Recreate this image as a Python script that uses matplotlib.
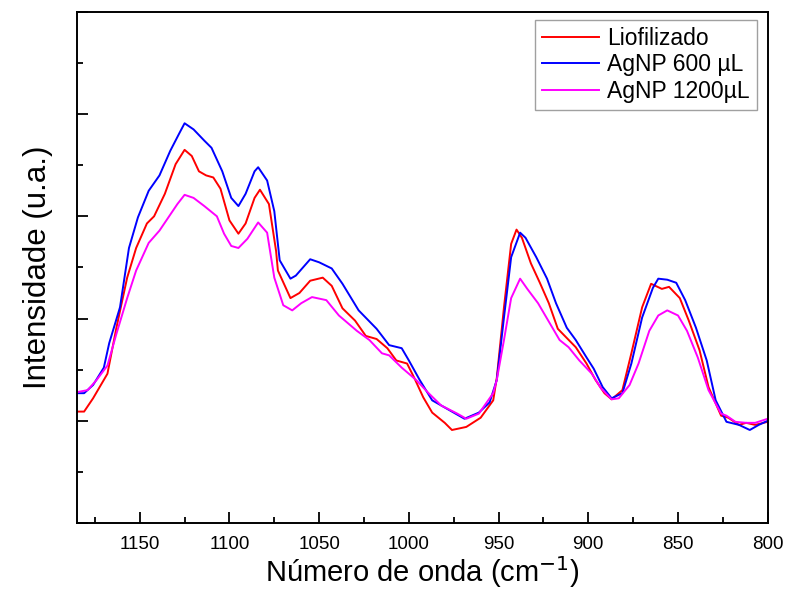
import matplotlib
matplotlib.use("Agg")
import matplotlib.pyplot as plt
from matplotlib.ticker import MultipleLocator, NullFormatter

plt.rcParams['font.family'] = ['Liberation Sans', 'DejaVu Sans']

# Liofilizado (red)
wn_lio = [1185, 1181, 1176, 1168, 1163, 1157, 1152, 1146, 1142, 1136, 1130, 1125, 1121,
          1117, 1113, 1109, 1105, 1100, 1095, 1091, 1086, 1083, 1078, 1074, 1073, 1066,
          1061, 1055, 1048, 1043, 1037, 1030, 1024, 1018, 1012, 1007, 1001, 997, 992,
          987, 980, 976, 968, 960, 953, 951, 947, 943, 940, 937, 932, 927, 922, 917,
          912, 907, 901, 896, 891, 887, 881, 876, 870, 865, 859, 855, 849, 844, 838,
          833, 826, 822, 816, 812, 807, 800]
int_lio = [1.09, 1.09, 1.22, 1.46, 1.91, 2.40, 2.69, 2.93, 3.00, 3.22, 3.51, 3.65, 3.59,
           3.44, 3.40, 3.38, 3.27, 2.96, 2.83, 2.93, 3.18, 3.26, 3.12, 2.66, 2.47, 2.20,
           2.25, 2.37, 2.40, 2.32, 2.10, 1.98, 1.83, 1.80, 1.71, 1.59, 1.56, 1.42, 1.23,
           1.08, 0.98, 0.91, 0.94, 1.03, 1.20, 1.42, 2.11, 2.73, 2.87, 2.79, 2.54, 2.35,
           2.15, 1.90, 1.81, 1.72, 1.56, 1.40, 1.27, 1.21, 1.30, 1.66, 2.11, 2.34, 2.29,
           2.31, 2.20, 1.98, 1.69, 1.33, 1.05, 1.03, 0.96, 0.98, 0.96, 0.99]

# AgNP 600 uL (blue)
wn_600 = [1185, 1181, 1176, 1170, 1167, 1161, 1156, 1151, 1145, 1139, 1133, 1128, 1125,
          1120, 1114, 1110, 1104, 1099, 1095, 1091, 1086, 1084, 1079, 1075, 1072, 1066,
          1063, 1055, 1050, 1043, 1037, 1028, 1018, 1011, 1004, 1000, 994, 987, 977,
          969, 961, 955, 951, 947, 943, 938, 935, 929, 923, 918, 912, 907, 901, 897,
          892, 887, 881, 876, 870, 864, 861, 856, 851, 846, 840, 834, 829, 823, 816,
          810, 805, 800]
int_600 = [1.27, 1.27, 1.35, 1.52, 1.76, 2.11, 2.69, 2.99, 3.25, 3.40, 3.64, 3.81, 3.91,
           3.85, 3.74, 3.67, 3.44, 3.18, 3.10, 3.22, 3.44, 3.48, 3.35, 3.05, 2.57, 2.39,
           2.42, 2.58, 2.55, 2.49, 2.34, 2.08, 1.90, 1.74, 1.71, 1.59, 1.40, 1.20, 1.10,
           1.02, 1.08, 1.18, 1.40, 2.01, 2.60, 2.84, 2.79, 2.60, 2.39, 2.15, 1.91, 1.79,
           1.62, 1.51, 1.33, 1.22, 1.27, 1.56, 2.01, 2.30, 2.39, 2.38, 2.35, 2.18, 1.91,
           1.59, 1.20, 0.99, 0.96, 0.91, 0.96, 1.00]

# AgNP 1200 uL (magenta)
wn_1200 = [1185, 1179, 1174, 1168, 1163, 1157, 1152, 1145, 1139, 1134, 1129, 1125, 1120,
           1114, 1107, 1103, 1099, 1095, 1090, 1084, 1079, 1075, 1070, 1065, 1060, 1054,
           1046, 1039, 1029, 1022, 1015, 1011, 1004, 996, 989, 982, 973, 968, 961, 953,
           951, 947, 943, 938, 934, 928, 923, 916, 911, 905, 898, 893, 887, 883, 877,
           872, 866, 861, 856, 850, 845, 839, 833, 826, 823, 818, 812, 807, 800]
int_1200 = [1.28, 1.30, 1.40, 1.54, 1.85, 2.20, 2.47, 2.74, 2.86, 2.99, 3.12, 3.21, 3.18,
            3.10, 3.00, 2.83, 2.71, 2.69, 2.78, 2.94, 2.84, 2.40, 2.13, 2.08, 2.15, 2.21,
            2.18, 2.03, 1.88, 1.79, 1.66, 1.64, 1.52, 1.40, 1.27, 1.15, 1.07, 1.02, 1.07,
            1.27, 1.40, 1.79, 2.20, 2.39, 2.29, 2.15, 2.00, 1.79, 1.72, 1.59, 1.46, 1.32,
            1.21, 1.22, 1.35, 1.56, 1.88, 2.03, 2.08, 2.03, 1.88, 1.62, 1.30, 1.07, 1.05,
            0.99, 0.98, 0.98, 1.02]

labels = ['Liofilizado', 'AgNP 600 µL', 'AgNP 1200µL']

fig = plt.figure(figsize=(7.85, 5.91), dpi=100)
ax = fig.add_axes([0.098, 0.115, 0.880, 0.865])

ax.plot(wn_lio, int_lio, color='#ff0000', lw=1.4, label=labels[0])
ax.plot(wn_600, int_600, color='#0000ff', lw=1.4, label=labels[1])
ax.plot(wn_1200, int_1200, color='#ff00ff', lw=1.4, label=labels[2])

ax.set_xlim(1185, 800)
ax.set_ylim(0, 5)
ax.xaxis.set_major_locator(MultipleLocator(50))
ax.xaxis.set_minor_locator(MultipleLocator(25))
ax.yaxis.set_major_locator(MultipleLocator(1))
ax.yaxis.set_minor_locator(MultipleLocator(0.5))
ax.yaxis.set_major_formatter(NullFormatter())

ax.tick_params(which='both', direction='in', top=False, right=False, width=1.3)
ax.tick_params(which='major', length=8, labelsize=13.5, pad=9)
ax.tick_params(which='minor', length=4)
for s in ax.spines.values():
    s.set_linewidth(1.4)

ax.set_xlabel('Número de onda (cm$^{-1}$)', fontsize=21, labelpad=1)
ax.set_ylabel('Intensidade (u.a.)', fontsize=22.5, labelpad=8)

leg = ax.legend(loc='upper right', bbox_to_anchor=(0.984, 0.984), fontsize=16.5,
                frameon=True, fancybox=False, edgecolor='#888888',
                handlelength=2.5, handletextpad=0.35, labelspacing=0.15,
                borderpad=0.3, borderaxespad=0)
leg.get_frame().set_linewidth(1.0)

fig.savefig('out.png', dpi=100)
